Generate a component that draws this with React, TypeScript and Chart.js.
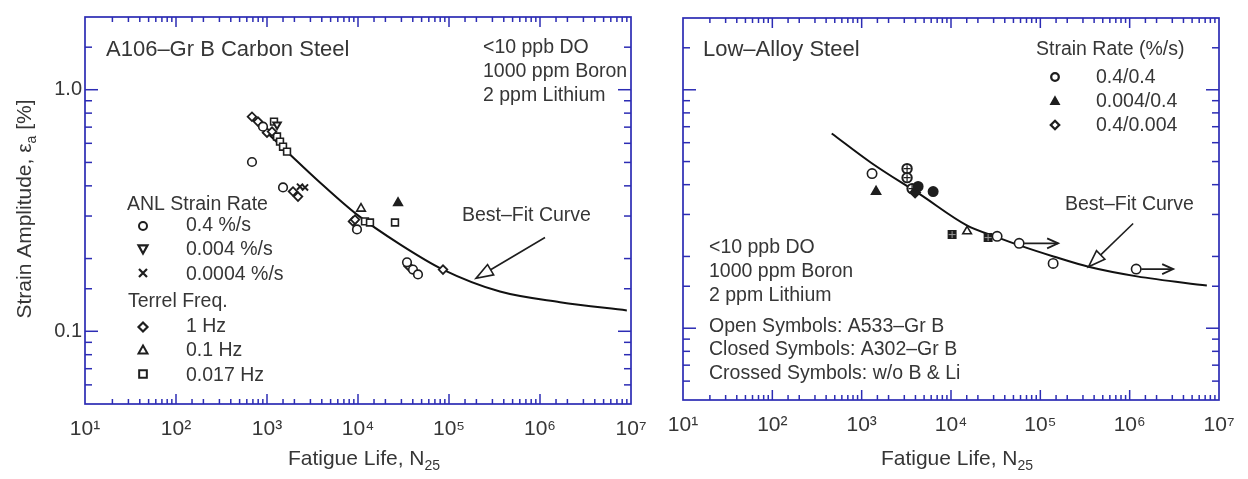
import React, { useEffect, useRef } from 'react';
import { Chart, registerables } from 'chart.js';

Chart.register(...registerables);

const FONT = '"Liberation Sans", Arial, Helvetica, sans-serif';
const INK = '#363636';
const BLUE = '#2c2cb4';

// ---- axes ----
const X_MIN = 10;
const X_MAX = 1e7;
const Y_MIN = 0.05;
const Y_MAX = 2;
const xLabelValues = [10, 100, 1000, 10000, 100000, 1000000, 10000000];
const xLabelTexts = ['10¹', '10²', '10³', '10⁴', '10⁵', '10⁶', '10⁷'];
const yLabelValues = [0.1, 1];
const yLabelTexts = ['0.1', '1.0'];

// ---- Left panel: A106-Gr B carbon steel ----
const csFitN = [650, 1660, 3820, 9750, 28960, 85900, 363000, 1660000, 9000000];
const csFitEa = [0.773, 0.554, 0.413, 0.304, 0.229, 0.18, 0.146, 0.132, 0.122];
const anl04N = [684, 904, 1500, 9750, 34550, 40210, 45620];
const anl04Ea = [0.502, 0.703, 0.394, 0.264, 0.193, 0.18, 0.172];
const anl0004N = [1290];
const anl0004Ea = [0.717];
const anl00004N = [2305, 2616];
const anl00004Ea = [0.397, 0.394];
const terrel1N = [684, 796, 1000, 1135, 1931, 2191, 8810, 9270, 36000, 85900];
const terrel1Ea = [0.773, 0.738, 0.664, 0.671, 0.379, 0.361, 0.285, 0.29, 0.186, 0.18];
const terrel01N = [10790];
const terrel01Ea = [0.322];
const terrel01BoldN = [27540];
const terrel01BoldEa = [0.34];
const terrel0017N = [1194, 1288, 1390, 1500, 1660, 11940, 13540, 25500];
const terrel0017Ea = [0.738, 0.64, 0.61, 0.581, 0.554, 0.285, 0.282, 0.282];
const csArrowTail = [1135000, 0.2445];
const csArrowTip = [198000, 0.1656];

// ---- Right panel: low-alloy steel ----
const laFitN = [462, 1298, 4508, 15030, 32580, 59400, 140300, 346000, 1205000, 7310000];
const laFitEa = [0.656, 0.492, 0.364, 0.27, 0.241, 0.222, 0.2, 0.181, 0.165, 0.151];
const a533FastN = [1307, 32820, 57910, 139100, 1183000];
const a533FastEa = [0.445, 0.243, 0.227, 0.187, 0.177];
const a533SlowUpN = [15140];
const a533SlowUpEa = [0.255];
const a302FastN = [4283, 6310];
const a302FastEa = [0.393, 0.374];
const a302SlowUpN = [1449];
const a302SlowUpEa = [0.374];
const a302SlowDownN = [3963];
const a302SlowDownEa = [0.371];
const crossedOpenN = [3223, 3223, 3667];
const crossedOpenEa = [0.467, 0.428, 0.385];
const crossedClosedN = [10290, 26030];
const crossedClosedEa = [0.247, 0.24];
const runoutFromN = [57910, 1183000];
const runoutToN = [158200, 3070000];
const runoutEa = [0.227, 0.177];
const laArrowTail = [1094000, 0.275];
const laArrowTip = [346000, 0.181];

type Txt = { t: string; x: number; y: number; size: number };
type Sym = { kind: string; filled: boolean; x: number; y: number; r: number; lw: number };
type Decor = {
  ox: number;
  texts: Txt[];
  symbols: Sym[];
  arrowTail: number[];
  arrowTip: number[];
  runouts: boolean;
  yTitle: boolean;
};

const S = 19.5;

const leftDecor: Decor = {
  ox: 0,
  texts: [
    { t: 'A106–Gr B Carbon Steel', x: 106, y: 50, size: 22 },
    { t: '<10 ppb DO', x: 483, y: 48, size: S },
    { t: '1000 ppm Boron', x: 483, y: 72, size: S },
    { t: '2 ppm Lithium', x: 483, y: 96, size: S },
    { t: 'ANL Strain Rate', x: 127, y: 205, size: S },
    { t: '0.4 %/s', x: 186, y: 226, size: S },
    { t: '0.004 %/s', x: 186, y: 250, size: S },
    { t: '0.0004 %/s', x: 186, y: 275, size: S },
    { t: 'Terrel Freq.', x: 128, y: 302, size: S },
    { t: '1 Hz', x: 186, y: 327, size: S },
    { t: '0.1 Hz', x: 186, y: 351, size: S },
    { t: '0.017 Hz', x: 186, y: 376, size: S },
    { t: 'Best–Fit Curve', x: 462, y: 216, size: S },
  ],
  symbols: [
    { kind: 'circle', filled: false, x: 143, y: 226, r: 4, lw: 2 },
    { kind: 'triangleDown', filled: false, x: 143, y: 249, r: 4.5, lw: 2.2 },
    { kind: 'x', filled: false, x: 143, y: 273, r: 4, lw: 2.2 },
    { kind: 'diamond', filled: false, x: 143, y: 327, r: 4.5, lw: 2.2 },
    { kind: 'triangle', filled: false, x: 143, y: 350, r: 4.5, lw: 2 },
    { kind: 'rect', filled: false, x: 143, y: 374, r: 4.5, lw: 2 },
  ],
  arrowTail: csArrowTail,
  arrowTip: csArrowTip,
  runouts: false,
  yTitle: true,
};

const rightDecor: Decor = {
  ox: 650,
  texts: [
    { t: 'Low–Alloy Steel', x: 703, y: 50, size: 22 },
    { t: 'Strain Rate (%/s)', x: 1036, y: 50, size: S },
    { t: '0.4/0.4', x: 1096, y: 78, size: S },
    { t: '0.004/0.4', x: 1096, y: 102, size: S },
    { t: '0.4/0.004', x: 1096, y: 126, size: S },
    { t: 'Best–Fit Curve', x: 1065, y: 205, size: S },
    { t: '<10 ppb DO', x: 709, y: 248, size: S },
    { t: '1000 ppm Boron', x: 709, y: 272, size: S },
    { t: '2 ppm Lithium', x: 709, y: 296, size: S },
    { t: 'Open Symbols: A533–Gr B', x: 709, y: 327, size: S },
    { t: 'Closed Symbols: A302–Gr B', x: 709, y: 350, size: S },
    { t: 'Crossed Symbols: w/o B & Li', x: 709, y: 374, size: S },
  ],
  symbols: [
    { kind: 'circle', filled: false, x: 1055, y: 77, r: 3.8, lw: 2.3 },
    { kind: 'triangle', filled: true, x: 1055, y: 101, r: 4.2, lw: 1.5 },
    { kind: 'diamond', filled: false, x: 1055, y: 125, r: 4.2, lw: 2.3 },
  ],
  arrowTail: laArrowTail,
  arrowTip: laArrowTip,
  runouts: true,
  yTitle: false,
};

const pts = (xs: number[], ys: number[]) => xs.map((x, i) => ({ x, y: ys[i] }));

function marks(label: string, xs: number[], ys: number[], style: string, filled: boolean, extra: any = {}) {
  return {
    label,
    data: pts(xs, ys),
    showLine: false,
    pointStyle: style,
    pointRadius: 4.3,
    pointBorderWidth: 1.6,
    pointBorderColor: '#1e1e1e',
    pointBackgroundColor: filled ? '#1e1e1e' : '#ffffff',
    order: 1,
    ...extra,
  };
}

function fitLine(label: string, xs: number[], ys: number[]) {
  return {
    label,
    data: pts(xs, ys),
    showLine: true,
    pointRadius: 0,
    borderColor: '#111111',
    borderWidth: 2,
    cubicInterpolationMode: 'monotone',
    fill: false,
    order: 10,
  };
}

function leftDatasets() {
  return [
    fitLine('Best-Fit Curve', csFitN, csFitEa),
    marks('ANL 0.4 %/s', anl04N, anl04Ea, 'circle', false),
    marks('ANL 0.004 %/s', anl0004N, anl0004Ea, 'triangle', false, { rotation: 180, pointBorderWidth: 2 }),
    marks('ANL 0.0004 %/s', anl00004N, anl00004Ea, 'crossRot', false, { pointBorderWidth: 2 }),
    marks('Terrel 1 Hz', terrel1N, terrel1Ea, 'rectRot', false, { pointBorderWidth: 1.8 }),
    marks('Terrel 0.1 Hz', terrel01N, terrel01Ea, 'triangle', false, { pointRadius: 5 }),
    marks('Terrel 0.1 Hz ', terrel01BoldN, terrel01BoldEa, 'triangle', true, { pointRadius: 5 }),
    marks('Terrel 0.017 Hz', terrel0017N, terrel0017Ea, 'rect', false, { pointRadius: 4.8 }),
  ];
}

function rightDatasets() {
  return [
    fitLine('Best-Fit Curve', laFitN, laFitEa),
    marks('A533-Gr B 0.4/0.4', a533FastN, a533FastEa, 'circle', false, { pointRadius: 4.7 }),
    marks('A533-Gr B 0.004/0.4', a533SlowUpN, a533SlowUpEa, 'triangle', false, { pointRadius: 5 }),
    marks('A302-Gr B 0.4/0.4', a302FastN, a302FastEa, 'circle', true, { pointRadius: 4.7 }),
    marks('A302-Gr B 0.004/0.4', a302SlowUpN, a302SlowUpEa, 'triangle', true, { pointRadius: 5.2 }),
    marks('A302-Gr B 0.4/0.004', a302SlowDownN, a302SlowDownEa, 'rectRot', true, { pointRadius: 5.2 }),
    marks('w/o B & Li (cross)', crossedOpenN, crossedOpenEa, 'cross', false, { pointRadius: 3.5, pointBorderWidth: 1.2, order: 0 }),
    marks('w/o B & Li', crossedOpenN, crossedOpenEa, 'circle', false, { pointRadius: 4.7, pointBorderWidth: 2 }),
    marks('w/o B & Li closed (cross)', crossedClosedN, crossedClosedEa, 'cross', false, { pointRadius: 3.5, pointBorderWidth: 1, pointBorderColor: '#9a9a9a', order: 0 }),
    marks('w/o B & Li closed', crossedClosedN, crossedClosedEa, 'rect', true, { pointRadius: 5.2 }),
  ];
}

function drawSymbol(ctx: CanvasRenderingContext2D, s: Sym, ox: number) {
  const x = s.x - ox;
  const y = s.y;
  const r = s.r;
  ctx.save();
  ctx.lineWidth = s.lw;
  ctx.strokeStyle = '#1e1e1e';
  ctx.fillStyle = s.filled ? '#1e1e1e' : '#ffffff';
  ctx.beginPath();
  if (s.kind === 'circle') ctx.arc(x, y, r, 0, Math.PI * 2);
  else if (s.kind === 'triangle') {
    ctx.moveTo(x, y - r);
    ctx.lineTo(x + r, y + r * 0.8);
    ctx.lineTo(x - r, y + r * 0.8);
    ctx.closePath();
  } else if (s.kind === 'triangleDown') {
    ctx.moveTo(x, y + r);
    ctx.lineTo(x + r, y - r * 0.8);
    ctx.lineTo(x - r, y - r * 0.8);
    ctx.closePath();
  } else if (s.kind === 'rect') ctx.rect(x - r * 0.85, y - r * 0.85, r * 1.7, r * 1.7);
  else if (s.kind === 'diamond') {
    ctx.moveTo(x, y - r);
    ctx.lineTo(x + r, y);
    ctx.lineTo(x, y + r);
    ctx.lineTo(x - r, y);
    ctx.closePath();
  } else if (s.kind === 'x') {
    ctx.moveTo(x - r, y - r);
    ctx.lineTo(x + r, y + r);
    ctx.moveTo(x + r, y - r);
    ctx.lineTo(x - r, y + r);
    ctx.stroke();
    ctx.restore();
    return;
  }
  ctx.fill();
  ctx.stroke();
  ctx.restore();
}

function drawRich(ctx: CanvasRenderingContext2D, parts: [string, string][], cx: number, cy: number, size: number) {
  const subSize = Math.round(size * 0.68);
  const widths = parts.map(([t, k]) => {
    ctx.font = `${k === 'n' ? size : subSize}px ${FONT}`;
    return ctx.measureText(t).width;
  });
  const total = widths.reduce((a, b) => a + b, 0);
  let x = cx - total / 2;
  ctx.textAlign = 'left';
  ctx.textBaseline = 'middle';
  parts.forEach(([t, k], i) => {
    ctx.font = `${k === 'n' ? size : subSize}px ${FONT}`;
    ctx.fillText(t, x, k === 'sub' ? cy + size * 0.32 : cy);
    x += widths[i];
  });
}

function isDecade(v: number) {
  const l = Math.log10(v);
  return Math.abs(l - Math.round(l)) < 1e-6;
}

function line(ctx: CanvasRenderingContext2D, x0: number, y0: number, x1: number, y1: number) {
  ctx.beginPath();
  ctx.moveTo(x0, y0);
  ctx.lineTo(x1, y1);
  ctx.stroke();
}

function decorPlugin(d: Decor) {
  return {
    id: 'decor',
    afterDraw(chart: any) {
      const ctx: CanvasRenderingContext2D = chart.ctx;
      const { left, right, top, bottom } = chart.chartArea;
      const xs = chart.scales.x;
      const ys = chart.scales.y;
      ctx.save();
      // frame and inward ticks
      ctx.strokeStyle = BLUE;
      ctx.lineWidth = 1.7;
      ctx.strokeRect(left, top, right - left, bottom - top);
      ctx.lineWidth = 1.5;
      for (const t of xs.ticks) {
        const v = t.value;
        if (v <= X_MIN * 1.0001 || v >= X_MAX * 0.9999) continue;
        const p = xs.getPixelForValue(v);
        const L = isDecade(v) ? 10 : 5;
        line(ctx, p, bottom, p, bottom - L);
        line(ctx, p, top, p, top + L);
      }
      for (const t of ys.ticks) {
        const v = t.value;
        if (v <= Y_MIN * 1.0001 || v >= Y_MAX * 0.9999) continue;
        const p = ys.getPixelForValue(v);
        const L = isDecade(v) ? 13 : 7;
        line(ctx, left, p, left + L, p);
        line(ctx, right, p, right - L, p);
      }
      // texts
      ctx.fillStyle = INK;
      ctx.textAlign = 'left';
      ctx.textBaseline = 'middle';
      for (const t of d.texts) {
        ctx.font = `${t.size}px ${FONT}`;
        ctx.fillText(t.t, t.x - d.ox, t.y);
      }
      for (const s of d.symbols) drawSymbol(ctx, s, d.ox);
      // best-fit arrow (hollow head)
      ctx.strokeStyle = '#1e1e1e';
      ctx.lineWidth = 1.6;
      const x0 = xs.getPixelForValue(d.arrowTail[0]);
      const y0 = ys.getPixelForValue(d.arrowTail[1]);
      const x1 = xs.getPixelForValue(d.arrowTip[0]);
      const y1 = ys.getPixelForValue(d.arrowTip[1]);
      const ang = Math.atan2(y1 - y0, x1 - x0);
      const c = Math.cos(ang);
      const s = Math.sin(ang);
      const HL = 17;
      const HW = 6;
      const bx = x1 - HL * c;
      const by = y1 - HL * s;
      line(ctx, x0, y0, bx, by);
      ctx.beginPath();
      ctx.moveTo(x1, y1);
      ctx.lineTo(bx - HW * s, by + HW * c);
      ctx.lineTo(bx + HW * s, by - HW * c);
      ctx.closePath();
      ctx.fillStyle = '#ffffff';
      ctx.fill();
      ctx.stroke();
      // run-out arrows
      if (d.runouts) {
        ctx.lineWidth = 1.8;
        runoutFromN.forEach((n0, i) => {
          const px0 = xs.getPixelForValue(n0) + 5;
          const px1 = xs.getPixelForValue(runoutToN[i]);
          const py = ys.getPixelForValue(runoutEa[i]);
          line(ctx, px0, py, px1, py);
          ctx.beginPath();
          ctx.moveTo(px1 - 11, py - 5);
          ctx.lineTo(px1, py);
          ctx.lineTo(px1 - 11, py + 5);
          ctx.stroke();
        });
      }
      // axis titles
      ctx.fillStyle = INK;
      drawRich(ctx, [['Fatigue Life, N', 'n'], ['25', 'sub']], (left + right) / 2 + 6, 459, 21);
      if (d.yTitle) {
        ctx.save();
        ctx.translate(25, 209);
        ctx.rotate(-Math.PI / 2);
        drawRich(ctx, [['Strain Amplitude, ε', 'n'], ['a', 'sub'], [' [%]', 'n']], 0, 0, 21);
        ctx.restore();
      }
      ctx.restore();
    },
  };
}

function makeConfig(datasets: any[], decor: Decor, o: { yWidth: number; padRight: number; padTop: number; xHeight: number; showY: boolean }): any {
  return {
    type: 'scatter',
    data: { datasets },
    options: {
      animation: false,
      responsive: false,
      devicePixelRatio: 1,
      layout: { padding: { top: o.padTop, right: o.padRight, bottom: 0, left: 0 } },
      plugins: { legend: { display: false }, tooltip: { enabled: false } },
      scales: {
        x: {
          type: 'logarithmic',
          position: 'bottom',
          min: X_MIN,
          max: X_MAX,
          grid: { display: false, drawTicks: false },
          border: { display: false },
          ticks: {
            autoSkip: false,
            maxRotation: 0,
            minRotation: 0,
            padding: 13,
            color: INK,
            font: { family: FONT, size: 21 },
            callback: (v: number) => {
              const i = xLabelValues.findIndex((dv) => Math.abs(dv - v) / dv < 1e-6);
              return i >= 0 ? xLabelTexts[i] : '';
            },
          },
          afterFit: (s: any) => {
            s.height = o.xHeight;
            s.paddingLeft = 0;
            s.paddingRight = 0;
          },
        },
        y: {
          type: 'logarithmic',
          position: 'left',
          min: Y_MIN,
          max: Y_MAX,
          grid: { display: false, drawTicks: false },
          border: { display: false },
          ticks: {
            autoSkip: false,
            padding: 3,
            color: INK,
            font: { family: FONT, size: 20 },
            callback: (v: number) => {
              if (!o.showY) return '';
              const i = yLabelValues.findIndex((dv) => Math.abs(dv - v) / dv < 1e-6);
              return i >= 0 ? yLabelTexts[i] : '';
            },
          },
          afterFit: (s: any) => {
            s.width = o.yWidth;
            s.paddingTop = 0;
            s.paddingBottom = 0;
          },
        },
      },
    },
    plugins: [decorPlugin(decor)],
  };
}

export default function App() {
  const r1 = useRef<HTMLCanvasElement>(null);
  const r2 = useRef<HTMLCanvasElement>(null);
  useEffect(() => {
    const c1 = new Chart(r1.current as HTMLCanvasElement, makeConfig(leftDatasets(), leftDecor, { yWidth: 85, padRight: 29, padTop: 17, xHeight: 75, showY: true }));
    const c2 = new Chart(r2.current as HTMLCanvasElement, makeConfig(rightDatasets(), rightDecor, { yWidth: 33, padRight: 29, padTop: 18, xHeight: 79, showY: false }));
    return () => {
      c1.destroy();
      c2.destroy();
    };
  }, []);
  return (
    <div style={{ position: 'absolute', left: 0, top: 0, width: 1248, height: 479, background: '#ffffff' }}>
      <canvas ref={r1} width={660} height={479} style={{ position: 'absolute', left: 0, top: 0, width: 660, height: 479 }} />
      <canvas ref={r2} width={598} height={479} style={{ position: 'absolute', left: 650, top: 0, width: 598, height: 479 }} />
    </div>
  );
}
